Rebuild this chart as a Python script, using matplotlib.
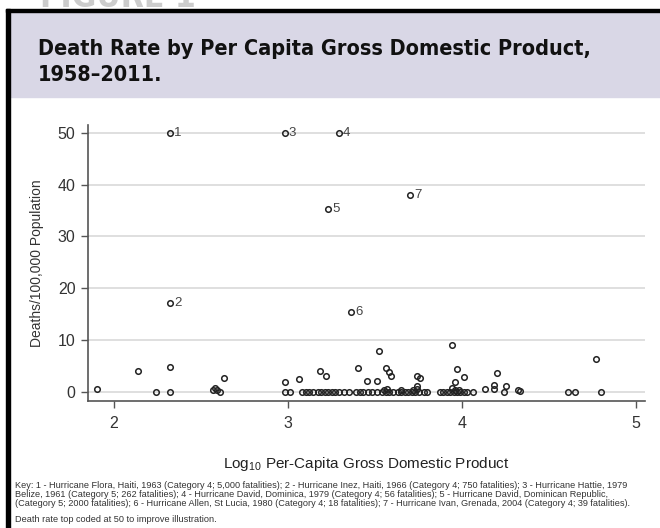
import matplotlib
matplotlib.use("Agg")
import matplotlib.pyplot as plt
from matplotlib import font_manager
from matplotlib.patches import Rectangle

# storm events: log10 per-capita GDP vs deaths per 100,000 population
log_gdp = [1.90, 2.14, 2.24, 2.32, 2.32, 2.57, 2.58, 2.59, 2.61, 2.63,
           2.98, 2.98, 3.01, 3.06, 3.08, 3.10, 3.12, 3.14, 3.17, 3.18,
           3.19, 3.21, 3.22, 3.23, 3.25, 3.27, 3.29, 3.32, 3.35, 3.39,
           3.40, 3.41, 3.43, 3.45, 3.46, 3.48, 3.51, 3.51, 3.52, 3.54,
           3.55, 3.56, 3.56, 3.57, 3.58, 3.58, 3.59, 3.60, 3.63, 3.65,
           3.65, 3.67, 3.69, 3.71, 3.72, 3.73, 3.74, 3.74, 3.74, 3.75,
           3.76, 3.78, 3.80, 3.87, 3.89, 3.91, 3.93, 3.94, 3.94, 3.95,
           3.96, 3.96, 3.97, 3.97, 3.98, 3.99, 4.01, 4.01, 4.03, 4.06,
           4.13, 4.18, 4.18, 4.20, 4.24, 4.25, 4.32, 4.33, 4.61, 4.65,
           4.77, 4.80]
death_rate = [0.6, 4.0, 0.0, 4.8, 0.0, 0.3, 0.8, 0.4, 0.0, 2.6,
              2.0, 0.0, 0.0, 2.5, 0.0, 0.0, 0.0, 0.0, 0.0, 4.1,
              0.0, 0.0, 3.1, 0.0, 0.0, 0.0, 0.0, 0.0, 0.0, 0.0,
              4.7, 0.0, 0.0, 2.2, 0.0, 0.0, 2.2, 0.0, 7.9, 0.0,
              0.4, 4.7, 0.0, 0.5, 3.9, 0.0, 3.1, 0.0, 0.0, 0.3,
              0.0, 0.0, 0.0, 0.0, 0.4, 0.0, 3.1, 1.2, 0.5, 0.0,
              2.7, 0.0, 0.0, 0.0, 0.0, 0.0, 0.0, 9.0, 0.7, 0.0,
              1.9, 0.4, 4.4, 0.0, 0.3, 0.0, 2.9, 0.0, 0.0, 0.0,
              0.5, 1.3, 0.5, 3.6, 0.0, 1.1, 0.3, 0.2, 0.0, 0.0,
              6.4, 0.0]

# numbered storms (death rate top coded at 50)
key_gdp = [2.32, 2.32, 2.98, 3.29, 3.23, 3.36, 3.70]
key_rate = [50.0, 17.2, 50.0, 50.0, 35.3, 15.5, 38.0]
key_ids = ["1", "2", "3", "4", "5", "6", "7"]

x_ticks = [2, 3, 4, 5]
y_ticks = [0, 10, 20, 30, 40, 50]

title_lines = ["Death Rate by Per Capita Gross Domestic Product,",
               "1958\u20132011."]
key_lines = [
    "Key: 1 - Hurricane Flora, Haiti, 1963 (Category 4; 5,000 fatalities); "
    "2 - Hurricane Inez, Haiti, 1966 (Category 4; 750 fatalities); 3 - Hurricane Hattie, 1979",
    "Belize, 1961 (Category 5; 262 fatalities); 4 - Hurricane David, Dominica, 1979 "
    "(Category 4; 56 fatalities); 5 - Hurricane David, Dominican Republic,",
    "(Category 5; 2000 fatalities); 6 - Hurricane Allen, St Lucia, 1980 (Category 4; "
    "18 fatalities); 7 - Hurricane Ivan, Grenada, 2004 (Category 4; 39 fatalities).",
]
top_note = "Death rate top coded at 50 to improve illustration."

plt.rcParams["font.family"] = ["Liberation Sans", "DejaVu Sans"]


def pick_condensed():
    # a narrow bold face for the heading, if one is installed
    for fam, stretch, tag, size in [("Liberation Sans Narrow", "normal", "Narrow", 17.5),
                                    ("DejaVu Sans", "condensed", "Condensed", 15.5)]:
        fp = font_manager.FontProperties(family=fam, stretch=stretch,
                                         weight="bold")
        try:
            path = font_manager.findfont(fp, fallback_to_default=False)
        except ValueError:
            continue
        if tag in path:
            return dict(family=fam, fontstretch=stretch, fontsize=size)
    return dict(family="Liberation Sans", fontsize=15)


head_font = pick_condensed()

W, H = 660, 528
fig = plt.figure(figsize=(W / 100, H / 100), dpi=100)


def px(x, y):
    # pixel position from top-left -> figure fraction
    return x / W, 1 - y / H


# header band and frame
fig.add_artist(Rectangle(px(10, 97), (W - 10) / W, 85 / H,
                         transform=fig.transFigure, color="#d9d7e6", zorder=0))
fig.add_artist(Rectangle(px(6, H), 4 / W, (H - 9) / H,
                         transform=fig.transFigure, color="black", zorder=1))
fig.add_artist(Rectangle(px(6, 12), (W - 6) / W, 3 / H,
                         transform=fig.transFigure, color="black", zorder=1))
fig.text(*px(40, 7), "FIGURE 1", fontweight="bold", fontsize=24,
         color="#cccccc", va="baseline", ha="left",
         **{k: v for k, v in head_font.items() if k != "fontsize"})
for line, base in zip(title_lines, [55, 81]):
    fig.text(*px(38, base), line, fontweight="bold", color="#111111",
             va="baseline", ha="left", **head_font)

ax = fig.add_axes([88 / W, 127 / H, (645 - 88) / W, (403 - 127) / H])
ax.set_facecolor("white")
ax.set_xlim(1.85, 5.05)
ax.set_ylim(-1.75, 51.5)
ax.set_xticks(x_ticks)
ax.set_yticks(y_ticks)
ax.yaxis.grid(True, color="#dcdcdc", linewidth=1.3)
ax.set_axisbelow(True)
for side in ["top", "right"]:
    ax.spines[side].set_visible(False)
for side in ["left", "bottom"]:
    ax.spines[side].set_color("#555555")
    ax.spines[side].set_linewidth(1.2)
ax.tick_params(direction="out", length=5, width=1, color="#555555",
               labelsize=11.5, labelcolor="#333333", pad=4)
ax.tick_params(axis="x", pad=6)

ax.plot(log_gdp, death_rate, "o", markersize=4, markerfacecolor="none",
        markeredgecolor="#222222", markeredgewidth=1.1, clip_on=False)
ax.plot(key_gdp, key_rate, "o", markersize=4, markerfacecolor="none",
        markeredgecolor="#222222", markeredgewidth=1.1, clip_on=False)
for gx, gy, lab in zip(key_gdp, key_rate, key_ids):
    ax.annotate(lab, (gx, gy), xytext=(3, 0), textcoords="offset points",
                va="center", ha="left", fontsize=9.5, color="#444444")

ax.set_ylabel("Deaths/100,000 Population", fontsize=10, color="#333333",
              labelpad=10)
ax.set_xlabel("Log$_{\\mathregular{10}}$ Per-Capita Gross Domestic Product",
              fontsize=11, color="#222222", labelpad=17)

for line, base in zip(key_lines, [488.5, 497, 505.5]):
    fig.text(*px(15, base), line, fontsize=6.6, color="#333333",
             va="baseline", ha="left")
fig.text(*px(15, 522), top_note, fontsize=6.6, color="#333333",
         va="baseline", ha="left")

fig.savefig("out.png", dpi=100)
